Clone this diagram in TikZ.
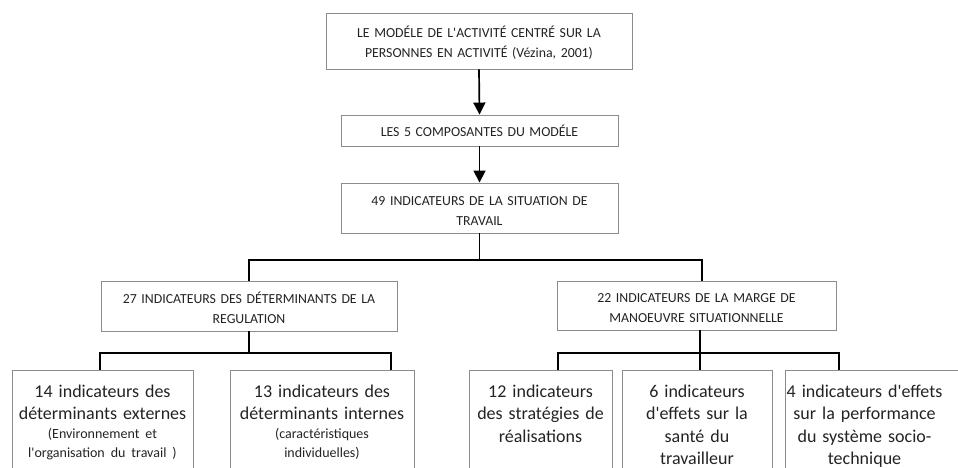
\documentclass[tikz,border=0pt]{standalone}
\usepackage{fontspec}
\setmainfont{Carlito}
\usetikzlibrary{arrows.meta,calc}
\definecolor{boxgray}{RGB}{140,140,140}
\definecolor{ink}{RGB}{35,35,35}
\newcommand\aq{\textquotesingle}
\newcommand\paren[1]{{\fontsize{14}{19}\selectfont #1}}
\tikzset{
  shapebox/.style={draw=boxgray, line width=0.9pt, inner sep=0pt},
  lowbox/.style={shapebox, anchor=north},
  captext/.style={inner sep=0pt, anchor=base, align=center, text width=300pt,
    text=ink, font=\fontsize{13.8}{20}\selectfont},
  lowtext/.style={inner sep=0pt, anchor=base, align=center, text width=180pt,
    text=ink, font=\fontsize{18}{22.5}\selectfont},
  conn/.style={draw=black, line width=1.7pt},
  arr/.style={conn, -{Triangle[width=12pt,length=12pt]}},
}
\begin{document}
\begin{tikzpicture}[x=1pt,y=-1pt]
\useasboundingbox (0,0) rectangle (958,468);
\clip (0,0) rectangle (958,468);
% caps boxes
\node[shapebox, minimum width=306pt, minimum height=56pt] (top) at (479,41) {};
\node[shapebox, minimum width=277pt, minimum height=31pt] (comp) at (479.5,130.5) {};
\node[shapebox, minimum width=277pt, minimum height=50pt] (ind) at (479.5,208) {};
\node[shapebox, minimum width=296pt, minimum height=50pt] (det) at (249,306) {};
\node[shapebox, minimum width=279pt, minimum height=49pt] (marge) at (696.5,305.5) {};
\node[captext] (ttop) at (479,38)
  {LE MODÉLE DE L\aq ACTIVITÉ CENTRÉ SUR LA\\PERSONNES EN ACTIVITÉ (Vézina, 2001)};
\node[captext] (tcomp) at (479.5,137) {LES 5 COMPOSANTES DU MODÉLE};
\node[captext] (tind) at (479.5,205) {49 INDICATEURS DE LA SITUATION DE\\TRAVAIL};
\node[captext] (tdet) at (249,303) {27 INDICATEURS DES DÉTERMINANTS DE LA\\REGULATION};
\node[captext] (tmarge) at (696.5,302) {22 INDICATEURS DE LA MARGE DE\\MANOEUVRE SITUATIONNELLE};
% lower boxes
\node[lowbox, minimum width=181pt, minimum height=120pt] (b14) at (102.5,370) {};
\node[lowbox, minimum width=184pt, minimum height=120pt] (b13) at (322,370) {};
\node[lowbox, minimum width=143pt, minimum height=120pt] (b12) at (540.5,370) {};
\node[lowbox, minimum width=150pt, minimum height=120pt] (b6) at (697,370) {};
\node[lowbox, minimum width=190pt, minimum height=120pt] (b4) at (880,370) {};
% lower texts
\node[lowtext] (t14) at (102.5,397) {14 indicateurs des\\déterminants externes\\[-3.5pt]
  \paren{(Environnement et}\\[-3.5pt]\paren{l\aq organisation du travail )}};
\node[lowtext] (t13) at (322,397) {13 indicateurs des\\déterminants internes\\[-3.5pt]
  \paren{(caractéristiques}\\[-3.5pt]\paren{individuelles)}};
\node[lowtext] (t12) at (540.5,397) {12 indicateurs\\des stratégies de\\réalisations};
\node[lowtext] (t6) at (697,397) {6 indicateurs\\d\aq effets sur la\\santé du\\travailleur};
\node[lowtext] (t4) at (864.5,397) {4 indicateurs d\aq effets\\sur la performance\\du système socio-\\technique};
% connectors
\coordinate (j1) at (479.5,260);
\coordinate (j2) at (249,353);
\coordinate (j3) at (700,353);
\draw[arr] (top.south) -- (comp.north);
\draw[arr] (comp.south) -- (ind.north);
\draw[conn] (ind.south) -- (j1);
\draw[conn] (det.north) |- (j1) -| ([xshift=5.5pt]marge.north);
\draw[conn] (det.south) -- (j2);
\draw[conn] ([xshift=-2.5pt]b14.north) |- (j2) -| ([xshift=69pt]b13.north);
\draw[conn] ([xshift=3.5pt]marge.south) -- ([xshift=3pt]b6.north);
\draw[conn] ([xshift=17.5pt]b12.north) |- (j3) -| ([xshift=-41pt]b4.north);
\end{tikzpicture}
\end{document}
